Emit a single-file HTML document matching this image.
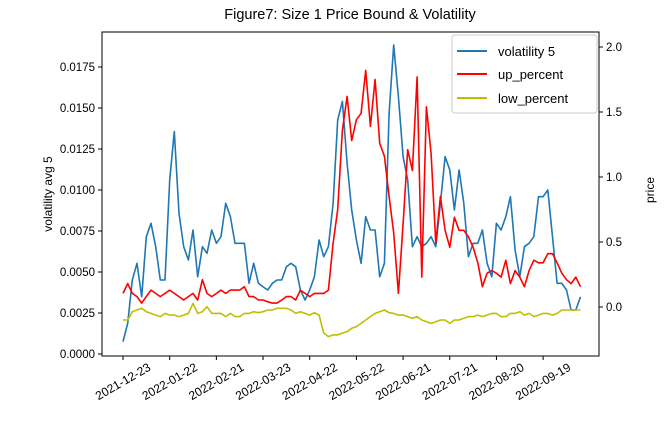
<!DOCTYPE html>
<html><head><meta charset="utf-8"><style>
body{margin:0;background:#fff;font-family:"Liberation Sans","DejaVu Sans",sans-serif;}
svg text{font-family:"Liberation Sans","DejaVu Sans",sans-serif;fill:#000}
</style></head><body>
<svg id="c" width="667" height="420" viewBox="0 0 667 420" xmlns="http://www.w3.org/2000/svg"></svg>
<script>
const startDate = "2021-12-23";
const stepDays = 3;
const volatility = [0.00075,0.00187,0.00451,0.00553,0.00349,0.00715,0.00797,0.00654,0.00451,0.00451,0.01061,0.01356,0.00858,0.00654,0.00573,0.00756,0.00471,0.00654,0.00614,0.00756,0.00675,0.00715,0.00919,0.00837,0.00675,0.00675,0.00675,0.00431,0.00553,0.00431,0.00410,0.00390,0.00431,0.00451,0.00451,0.00532,0.00553,0.00532,0.00390,0.00329,0.00390,0.00471,0.00695,0.00593,0.00654,0.00919,0.01427,0.01540,0.01163,0.00878,0.00695,0.00553,0.00837,0.00756,0.00756,0.00471,0.00553,0.01468,0.01884,0.01569,0.01203,0.01061,0.00654,0.00715,0.00654,0.00675,0.00715,0.00654,0.00919,0.01203,0.01122,0.00878,0.01122,0.00919,0.00593,0.00675,0.00675,0.00756,0.00553,0.00471,0.00797,0.00756,0.00837,0.00959,0.00634,0.00471,0.00654,0.00675,0.00715,0.00959,0.00959,0.01000,0.00715,0.00431,0.00431,0.00390,0.00268,0.00268,0.00349];
const upPercent = [0.105,0.18,0.105,0.08,0.03,0.08,0.13,0.105,0.08,0.105,0.13,0.105,0.08,0.054,0.08,0.105,0.054,0.21,0.105,0.08,0.105,0.13,0.105,0.13,0.13,0.13,0.156,0.08,0.08,0.054,0.054,0.04,0.03,0.03,0.054,0.08,0.08,0.054,0.13,0.105,0.08,0.105,0.105,0.105,0.13,0.49,0.75,1.36,1.62,1.28,1.44,1.49,1.82,1.39,1.75,1.26,1.16,0.85,0.57,0.105,0.64,1.21,1.05,1.77,0.23,1.54,1.18,0.49,0.85,0.59,0.46,0.69,0.59,0.59,0.54,0.46,0.34,0.156,0.26,0.28,0.26,0.23,0.36,0.18,0.28,0.23,0.156,0.28,0.36,0.34,0.34,0.41,0.41,0.34,0.26,0.21,0.18,0.23,0.156];
const lowPercent = [-0.10,-0.10,-0.036,-0.023,-0.01,-0.036,-0.049,-0.062,-0.074,-0.049,-0.062,-0.062,-0.074,-0.062,-0.049,0.028,-0.049,-0.036,0.002,-0.049,-0.049,-0.049,-0.074,-0.049,-0.074,-0.074,-0.049,-0.049,-0.036,-0.044,-0.036,-0.023,-0.023,-0.01,-0.01,-0.01,-0.023,-0.049,-0.036,-0.049,-0.062,-0.044,-0.062,-0.20,-0.228,-0.215,-0.215,-0.20,-0.19,-0.164,-0.151,-0.126,-0.10,-0.074,-0.049,-0.036,-0.023,-0.044,-0.049,-0.062,-0.062,-0.074,-0.087,-0.074,-0.10,-0.113,-0.126,-0.113,-0.10,-0.10,-0.126,-0.10,-0.10,-0.087,-0.074,-0.074,-0.062,-0.074,-0.062,-0.049,-0.049,-0.074,-0.074,-0.049,-0.049,-0.036,-0.062,-0.049,-0.074,-0.062,-0.049,-0.049,-0.062,-0.049,-0.023,-0.023,-0.023,-0.023,-0.023];
const xTickLabels = ["2021-12-23","2022-01-22","2022-02-21","2022-03-23","2022-04-22","2022-05-22","2022-06-21","2022-07-21","2022-08-20","2022-09-19"];
const leftTicks = [0,0.0025,0.005,0.0075,0.01,0.0125,0.015,0.0175];
const rightTicks = [0,0.5,1.0,1.5,2.0];

const NS="http://www.w3.org/2000/svg", svg=document.getElementById('c');
function mk(t,a,p){const e=document.createElementNS(NS,t);for(const k in a)e.setAttribute(k,a[k]);(p||svg).appendChild(e);return e;}
const L=102,R=599,T=32,B=356;
const DAY=86400000, t0=Date.parse(startDate);
const xScale = ms => 123 + (ms - t0)/DAY*1.556;
const yLeft = v => 354 - v*16400;
const yRight = v => 307 - v*130;
const dateOf = i => t0 + i*stepDays*DAY;

const title=mk('text',{x:350,y:19,'text-anchor':'middle','font-size':14.5});
title.textContent="Figure7: Size 1 Price Bound & Volatility";



function line(arr,yf,color,name){
  const d=arr.map((v,i)=>(i?'L':'M')+xScale(dateOf(i)).toFixed(1)+','+yf(v).toFixed(1)).join('');
  const p=mk('path',{d:d,fill:'none',stroke:color,'stroke-width':1.6,'stroke-linejoin':'round'});
  
  
}
line(volatility,yLeft,'#1f77b4','volatility-5-line');
line(upPercent,yRight,'#ff0000','up-percent-line');
line(lowPercent,yRight,'#bfbf00','low-percent-line');

const frame=mk('rect',{x:L,y:T,width:R-L,height:B-T,fill:'none',stroke:'#000','stroke-width':1});



leftTicks.forEach(v=>{const y=yLeft(v);mk('line',{x1:L-4,x2:L,y1:y,y2:y,stroke:'#000'});
  const t=mk('text',{x:L-7,y:y+4,'text-anchor':'end','font-size':11.5});t.textContent=v.toFixed(4);
  
  });
rightTicks.forEach(v=>{const y=yRight(v);mk('line',{x1:R,x2:R+4,y1:y,y2:y,stroke:'#000'});
  const t=mk('text',{x:R+7,y:y+4,'font-size':11.5});t.textContent=v.toFixed(1);
  
  });
xTickLabels.forEach(s=>{const x=xScale(Date.parse(s));mk('line',{x1:x,x2:x,y1:B,y2:B+4,stroke:'#000'});
  const cx=x+2, cy=B+29;
  const t=mk('text',{x:cx,y:cy,'text-anchor':'middle','font-size':12,transform:`rotate(-30 ${cx} ${cy})`});t.textContent=s;
  
  });

const yl=mk('text',{x:52,y:194,'text-anchor':'middle','font-size':12,transform:'rotate(-90 52 194)'});yl.textContent="volatility avg 5";


const yr=mk('text',{x:654,y:190,'text-anchor':'middle','font-size':12,transform:'rotate(-90 654 190)'});yr.textContent="price";



const lg=mk('g',{});


mk('rect',{x:452,y:35,width:145,height:78,rx:3,fill:'#fff','fill-opacity':0.8,stroke:'#ccc'},lg);
[['volatility 5','#1f77b4',51],['up_percent','#ff0000',74],['low_percent','#bfbf00',98]].forEach(e=>{
  const g=mk('g',{},lg);
  
  
  mk('line',{x1:457,x2:487,y1:e[2],y2:e[2],stroke:e[1],'stroke-width':2},g);
  const t=mk('text',{x:498,y:e[2]+5,'font-size':13},g);t.textContent=e[0];
});
</script>
</body></html>
